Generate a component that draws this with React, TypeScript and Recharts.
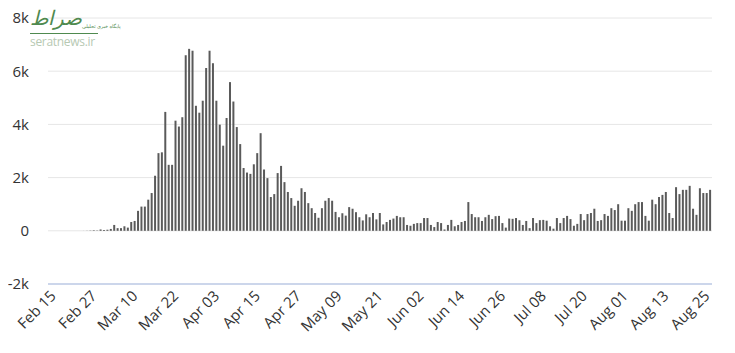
import React from 'react';
import { BarChart, Bar, XAxis, YAxis, CartesianGrid } from 'recharts';

// daily new cases, one value per day starting Feb 15
const dailyCases: number[] = [
    0, 0, 0, 0, 0, 0, 0, 0, 0, 0,
    2, 4, 10, 20, 12, 50, 30, 40, 70, 220,
    100, 100, 170, 120, 330, 370, 750, 910, 910, 1170,
    1420, 2070, 2920, 2950, 4470, 2480, 2480, 4140, 3920, 4270,
    6600, 6840, 6770, 4700, 4440, 4890, 6120, 6770, 6300, 4890,
    3990, 3200, 4240, 5590, 4860, 3900, 3260, 2360, 2190, 2140,
    2500, 2920, 3670, 2300, 1980, 1270, 1380, 2170, 2440, 1830,
    1460, 1230, 940, 1130, 1600, 1460, 1040, 850, 670, 490,
    850, 1130, 1230, 1130, 710, 510, 660, 570, 890, 830,
    700, 510, 390, 620, 510, 670, 430, 670, 240, 330,
    410, 460, 560, 510, 510, 220, 190, 260, 290, 290,
    480, 480, 220, 140, 330, 290, 50, 220, 410, 170,
    220, 330, 370, 1080, 630, 510, 510, 370, 510, 600,
    440, 550, 560, 290, 120, 460, 450, 480, 400, 220,
    370, 100, 480, 290, 400, 410, 380, 170, 80, 480,
    290, 480, 560, 440, 190, 260, 630, 400, 630, 670,
    830, 370, 400, 630, 560, 850, 780, 1000, 380, 380,
    850, 750, 1000, 1080, 1080, 560, 380, 1170, 1000, 1270,
    1350, 1460, 670, 480, 1640, 1380, 1540, 1540, 1690, 830,
    600, 1600, 1420, 1420, 1540,
];

const yTicks = [-2000, 0, 2000, 4000, 6000, 8000];
const monthNames = ['Jan', 'Feb', 'Mar', 'Apr', 'May', 'Jun', 'Jul', 'Aug', 'Sep', 'Oct', 'Nov', 'Dec'];

const dayLabel = (i: number) => {
    const d = new Date(Date.UTC(2020, 1, 15 + i));
    return `${monthNames[d.getUTCMonth()]} ${String(d.getUTCDate()).padStart(2, '0')}`;
};

const data = dailyCases.map((cases, i) => ({ day: dayLabel(i), cases }));

const fontFamily = '"Open Sans", "DejaVu Sans", sans-serif';

const formatK = (v: number) => (v === 0 ? '0' : `${v / 1000}k`);

const DateTick = (props: any) => {
    const { x, y, payload } = props;
    return (
        <g transform={`translate(${x},${y})`}>
            <text
                x={0}
                y={0}
                dx={3}
                dy={7}
                textAnchor="end"
                transform="rotate(-45)"
                fill="#333"
                fontSize={15}
                fontFamily={fontFamily}
            >
                {payload.value}
            </text>
        </g>
    );
};

export default function App() {
    return (
        <div style={{ position: 'relative', width: 727, height: 345 }}>
            <BarChart
                width={727}
                height={345}
                data={data}
                margin={{ top: 10, right: 23, left: 0, bottom: 0 }}
                barCategoryGap="15%"
            >
                <CartesianGrid vertical={false} stroke="#e6e6e6" />
                <XAxis
                    dataKey="day"
                    interval={11}
                    tickLine={false}
                    axisLine={{ stroke: '#ccd6eb', strokeWidth: 2 }}
                    tick={<DateTick />}
                    tickSize={8}
                    height={69}
                />
                <YAxis
                    domain={[-2000, 8000]}
                    ticks={yTicks}
                    tickFormatter={formatK}
                    axisLine={false}
                    tickLine={false}
                    tickSize={0}
                    tickMargin={19}
                    width={40}
                    tick={{ fill: '#333', fontSize: 15, fontFamily }}
                />
                <Bar dataKey="cases" fill="#5a5a5a" isAnimationActive={false} />
            </BarChart>
            <div style={{ position: 'absolute', left: 22, top: -4, width: 68, fontFamily }}>
                <div style={{ display: 'flex', alignItems: 'flex-end', justifyContent: 'space-between' }}>
                    <span style={{ color: '#4f8a4f', fontSize: 20, fontStyle: 'italic', lineHeight: '28px' }}>صراط</span>
                    <span style={{ color: '#4f8a4f', fontSize: 5, lineHeight: '12px', whiteSpace: 'nowrap' }}>پایگاه خبری تحلیلی</span>
                </div>
                <div style={{ borderTop: '1px solid #4f8a4f', marginTop: 1 }} />
                <div style={{ color: '#b7c9b3', fontSize: 12, lineHeight: '15px', letterSpacing: -0.3, whiteSpace: 'nowrap' }}>seratnews.ir</div>
            </div>
        </div>
    );
}
